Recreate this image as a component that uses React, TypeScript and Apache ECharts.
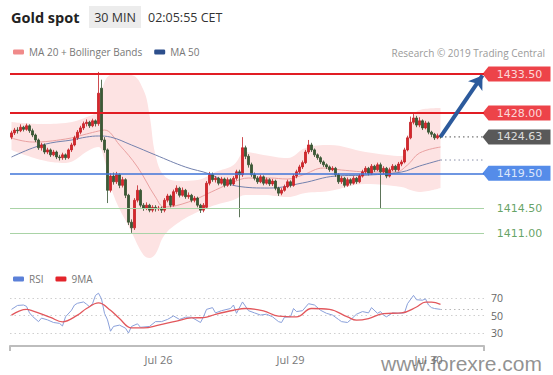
import { useEffect, useRef } from "react";
import * as echarts from "echarts";

// ---------- categories (30-min slots; 144 candles + empty slots up to the price tags) ----------
const slotCount = 158;
const dateTickIndex = [49, 93, 139];
const dateTickLabels = ["Jul 26", "Jul 29", "Jul 30"];

// ---------- candles: [open, close, low, high] ----------
const candles: number[][] = [
  [1424.6, 1425.2, 1424.3, 1425.5], [1425.2, 1425.6, 1424.9, 1425.9], [1425.6, 1425.5, 1425.1, 1426.0],
  [1425.5, 1426.0, 1425.3, 1426.4], [1426.0, 1425.7, 1425.4, 1426.2], [1425.7, 1426.2, 1425.5, 1426.5],
  [1426.2, 1425.5, 1425.2, 1426.4], [1425.5, 1424.9, 1424.6, 1425.8], [1424.9, 1424.2, 1423.9, 1425.1],
  [1424.2, 1423.1, 1422.8, 1424.4], [1423.1, 1423.5, 1422.7, 1423.8], [1423.5, 1422.5, 1422.2, 1423.7],
  [1422.5, 1422.8, 1422.2, 1423.1], [1422.8, 1422.1, 1421.8, 1423.0], [1422.1, 1422.5, 1421.9, 1422.8],
  [1422.5, 1421.8, 1421.5, 1422.7], [1421.8, 1421.7, 1421.3, 1422.1], [1421.7, 1422.1, 1421.4, 1422.4],
  [1422.1, 1421.7, 1421.4, 1422.3], [1421.7, 1422.8, 1421.5, 1423.0], [1422.8, 1423.5, 1422.5, 1423.8],
  [1423.5, 1424.5, 1423.3, 1424.8], [1424.5, 1425.3, 1424.2, 1425.6], [1425.3, 1425.9, 1425.0, 1426.2],
  [1425.9, 1426.5, 1425.6, 1426.8], [1426.5, 1426.7, 1426.1, 1427.1], [1426.7, 1426.2, 1425.9, 1426.9],
  [1426.2, 1426.9, 1426.0, 1427.2], [1426.9, 1426.5, 1426.1, 1427.1], [1426.5, 1430.8, 1426.2, 1433.8],
  [1431.5, 1424.2, 1423.9, 1432.7], [1424.2, 1422.8, 1422.4, 1424.6], [1422.8, 1417.1, 1415.3, 1423.0],
  [1417.1, 1419.1, 1416.8, 1419.5], [1419.1, 1418.3, 1417.9, 1419.6], [1418.3, 1419.3, 1418.0, 1419.7],
  [1419.3, 1417.8, 1417.4, 1419.5], [1417.8, 1418.6, 1417.5, 1419.0], [1418.6, 1416.4, 1416.0, 1418.8],
  [1416.4, 1412.6, 1412.2, 1416.6], [1412.6, 1411.8, 1411.1, 1413.0], [1411.8, 1415.7, 1411.5, 1416.0],
  [1415.7, 1417.1, 1415.4, 1417.8], [1417.1, 1415.0, 1414.7, 1417.3], [1415.0, 1414.6, 1414.2, 1415.3],
  [1414.6, 1415.0, 1414.3, 1415.4], [1415.0, 1414.3, 1414.0, 1415.2], [1414.3, 1414.7, 1414.0, 1415.0],
  [1414.7, 1414.5, 1414.1, 1415.0], [1414.5, 1414.6, 1414.2, 1414.9], [1414.6, 1414.3, 1413.9, 1414.8],
  [1414.3, 1415.7, 1414.0, 1416.0], [1415.7, 1416.3, 1415.4, 1416.6], [1416.3, 1415.0, 1414.7, 1416.5],
  [1415.0, 1416.9, 1414.8, 1417.2], [1416.9, 1417.4, 1416.6, 1417.8], [1417.4, 1416.4, 1416.1, 1417.6],
  [1416.4, 1417.1, 1416.2, 1417.5], [1417.1, 1416.2, 1415.9, 1417.3], [1416.2, 1416.4, 1415.9, 1416.8],
  [1416.4, 1415.7, 1415.4, 1416.6], [1415.7, 1416.0, 1415.4, 1416.3], [1416.0, 1415.0, 1414.7, 1416.2],
  [1415.0, 1414.3, 1413.9, 1415.2], [1414.3, 1415.0, 1414.0, 1415.3], [1414.7, 1418.1, 1414.5, 1418.4],
  [1418.1, 1419.3, 1417.8, 1419.7], [1419.3, 1418.6, 1418.3, 1419.6], [1418.6, 1418.8, 1418.2, 1419.1],
  [1418.8, 1418.1, 1417.8, 1419.0], [1418.1, 1418.7, 1417.9, 1419.0], [1418.7, 1417.8, 1417.5, 1418.9],
  [1417.8, 1418.6, 1417.6, 1418.9], [1418.6, 1418.0, 1417.7, 1418.8], [1418.0, 1418.8, 1417.8, 1419.1],
  [1418.8, 1419.7, 1418.5, 1420.0], [1419.7, 1419.3, 1413.3, 1420.0], [1419.3, 1423.1, 1419.0, 1424.6],
  [1423.1, 1421.9, 1421.5, 1423.4], [1421.9, 1420.7, 1420.3, 1422.2], [1420.7, 1419.3, 1419.0, 1421.0],
  [1419.3, 1418.8, 1418.5, 1419.6], [1418.8, 1418.3, 1418.0, 1419.1], [1418.3, 1419.0, 1418.1, 1419.3],
  [1419.0, 1418.1, 1417.8, 1419.2], [1418.1, 1418.6, 1417.9, 1418.9], [1418.6, 1418.0, 1417.7, 1418.8],
  [1418.0, 1418.4, 1417.7, 1418.7], [1418.4, 1417.4, 1417.1, 1418.6], [1417.4, 1416.7, 1416.3, 1417.6],
  [1416.7, 1417.1, 1416.4, 1417.4], [1417.1, 1417.6, 1416.9, 1417.9], [1417.6, 1418.3, 1417.4, 1418.6],
  [1418.3, 1417.8, 1417.5, 1418.5], [1417.8, 1419.1, 1417.6, 1419.4], [1419.1, 1419.7, 1418.8, 1420.0],
  [1419.7, 1420.4, 1419.4, 1420.7], [1420.4, 1421.0, 1420.1, 1421.3], [1421.0, 1422.5, 1420.8, 1422.8],
  [1422.5, 1423.5, 1422.2, 1424.2], [1423.5, 1422.8, 1422.5, 1423.8], [1422.8, 1422.1, 1421.8, 1423.0],
  [1422.1, 1421.7, 1421.4, 1422.3], [1421.7, 1421.1, 1420.8, 1421.9], [1421.1, 1420.7, 1420.4, 1421.3],
  [1420.7, 1420.4, 1420.1, 1420.9], [1420.4, 1420.0, 1419.7, 1420.6], [1420.0, 1420.2, 1419.8, 1420.5],
  [1420.2, 1419.3, 1419.0, 1420.4], [1419.3, 1418.3, 1418.0, 1419.5], [1418.3, 1418.8, 1418.0, 1419.1],
  [1418.8, 1417.8, 1417.5, 1419.0], [1417.8, 1418.6, 1417.6, 1418.9], [1418.6, 1418.1, 1417.8, 1418.8],
  [1418.1, 1418.8, 1417.9, 1419.1], [1418.8, 1418.3, 1418.0, 1419.0], [1418.3, 1419.1, 1418.1, 1419.4],
  [1419.1, 1419.7, 1418.9, 1420.0], [1419.7, 1420.2, 1419.4, 1420.5], [1420.2, 1419.5, 1419.2, 1420.4],
  [1419.5, 1420.5, 1419.3, 1420.8], [1420.5, 1420.0, 1419.7, 1420.7], [1420.0, 1420.7, 1419.8, 1421.0],
  [1420.7, 1419.7, 1414.6, 1421.0], [1419.7, 1420.2, 1419.4, 1420.5], [1420.2, 1419.1, 1418.8, 1420.4],
  [1419.1, 1420.0, 1418.9, 1420.3], [1420.0, 1420.5, 1419.8, 1420.8], [1420.5, 1420.0, 1419.7, 1420.7],
  [1420.0, 1420.8, 1419.8, 1421.1], [1420.8, 1421.1, 1420.5, 1421.4], [1421.1, 1422.8, 1420.9, 1423.1],
  [1422.8, 1424.5, 1422.6, 1424.8], [1424.5, 1426.7, 1424.3, 1427.5], [1426.7, 1427.3, 1426.4, 1428.0],
  [1427.3, 1426.3, 1426.0, 1427.6], [1426.3, 1426.9, 1426.0, 1427.4], [1426.9, 1425.9, 1425.6, 1427.1],
  [1425.9, 1426.6, 1425.7, 1426.9], [1426.6, 1425.3, 1425.0, 1426.8], [1425.3, 1425.0, 1424.6, 1425.5],
  [1425.0, 1424.5, 1424.2, 1425.2], [1424.5, 1424.8, 1424.3, 1425.1], [1424.8, 1424.63, 1424.4, 1425.0],
];

// ---------- indicators: [slot, value] ----------
const ma20Points = [
  [0, 1424.47], [7, 1423.91], [18, 1424.33], [25, 1425.04], [29, 1425.46], [31, 1425.6], [36, 1423.5],
  [42, 1420.38], [48, 1416.15], [51, 1414.74], [59, 1415.45], [68, 1417.14], [74, 1418.27], [79, 1418.83],
  [86, 1418.83], [92, 1418.69], [97, 1419.25], [104, 1420.24], [110, 1419.96], [120, 1419.68],
  [128, 1419.68], [132, 1420.67], [136, 1422.36], [143, 1423.2],
];
const ma50Points = [
  [0, 1421.79], [7, 1423.06], [13, 1423.77], [20, 1424.19], [25, 1424.61], [29, 1424.76], [33, 1424.61],
  [40, 1423.49], [48, 1422.08], [58, 1420.38], [66, 1419.4], [75, 1417.7], [86, 1417.42], [97, 1418.13],
  [108, 1419.11], [119, 1419.25], [130, 1419.68], [136, 1420.52], [143, 1421.37],
];
const bandSlots = [0, 10, 18, 26, 29, 31, 34, 40, 44, 46, 48, 51, 56, 62, 68, 74, 78, 84, 92, 98, 106, 118, 130, 133, 136, 143];
const bandUpper = [
  1426.73, 1426.45, 1426.59, 1427.58, 1428.42, 1432.37, 1433.5, 1433.36, 1431.24, 1427.72, 1422.08, 1419.11, 1418.41,
  1418.55, 1419.68, 1420.67, 1422.5, 1422.08, 1421.65, 1423.06, 1423.49, 1422.5, 1421.93, 1426.31, 1428.42, 1428.7,
];
const bandLower = [
  1422.78, 1421.37, 1420.95, 1422.78, 1423.2, 1421.37, 1416.43, 1411.22, 1407.97, 1407.55, 1408.11, 1410.79, 1412.63,
  1414.04, 1415.02, 1415.73, 1416.43, 1416.43, 1416.15, 1416.72, 1417.0, 1417.99, 1417.56, 1417.14, 1416.86, 1417.42,
];

// ---------- price levels ----------
const levelValues = [1433.5, 1428.0, 1424.63, 1419.5, 1414.5, 1411.0];
const levelLabels = ["1433.50", "1428.00", "1424.63", "1419.50", "1414.50", "1411.00"];
const levelKinds = ["resistance", "resistance", "last", "pivot", "support", "support"];
const ma50Last = 1421.37;
const targetValue = 1433.3;

// ---------- RSI panel ----------
const rsiPoints = [
  [0, 57], [2, 61.5], [4, 62], [5, 60.5], [6, 53], [7, 49], [9, 43], [10, 47], [12, 45], [14, 42], [16, 41],
  [17, 38], [18, 48.5], [20, 56], [21, 62], [22, 64], [24, 65.5], [25, 63], [26, 60], [27, 63.5], [28, 73],
  [29, 75.5], [30, 69], [31, 52.5], [32, 45], [33, 32], [34, 37.5], [36, 39], [38, 35.5], [39, 30], [40, 37.5],
  [42, 40.5], [43, 36.5], [46, 37.5], [48, 43], [50, 43], [52, 45.5], [54, 49.5], [56, 45.5], [58, 48], [60, 48],
  [63, 42], [64, 48.5], [65, 57], [67, 59], [68, 53], [70, 55.5], [73, 58], [74, 62], [75, 52.5], [77, 65.5],
  [79, 55.5], [81, 53], [83, 50.5], [85, 51.5], [87, 48.5], [89, 43], [90, 42], [91, 48], [93, 48.5], [94, 58],
  [95, 54.5], [97, 55.5], [99, 63.5], [101, 62], [103, 56], [105, 52.5], [107, 50.5], [109, 45.5], [110, 43],
  [112, 42], [113, 45], [115, 51.5], [117, 54.5], [119, 53], [120, 59], [122, 52.5], [123, 54.5], [124, 50.5],
  [125, 48.5], [127, 53], [129, 52.5], [131, 53], [132, 63.5], [134, 73], [135, 68], [137, 67.5], [138, 69],
  [139, 62], [140, 59], [141, 58], [143, 57],
];
const ma9Points = [
  [0, 50.4], [5, 57], [7, 55.3], [13, 47.8], [17, 42.8], [22, 50.4], [25, 58], [29, 64.4], [33, 56], [36, 46.5],
  [40, 35.8], [44, 35.8], [49, 38.9], [55, 43.7], [60, 47.2], [64, 47.6], [68, 51.4], [74, 56], [78, 58],
  [84, 55.3], [89, 49.2], [95, 48.4], [100, 58], [106, 56.9], [112, 48.4], [115, 44.6], [119, 46.5], [124, 52.2],
  [130, 52.9], [135, 59.7], [138, 65.4], [140, 65.4], [143, 62.8],
];
const rsiLevels = [70, 50, 30];
const rsiLast = 57;

const FONT = "'Open Sans', 'DejaVu Sans', sans-serif";
const TAGFONT = "'DejaVu Sans', sans-serif";

function buildOption() {
  const categories = Array.from({ length: slotCount }, (_, i) => String(i));
  const lastSlot = candles.length - 1;
  const endSlot = slotCount - 1;
  const kindColor: Record<string, string> = {
    resistance: "#e8141b",
    last: "#2f2f2f",
    pivot: "#2a6fe3",
    support: "#3d8b3d",
  };
  const lineColor: Record<string, string> = {
    resistance: "#e11d24",
    pivot: "#3f74d8",
    support: "#a9d3a6",
  };
  const lineWidth: Record<string, number> = { resistance: 2, pivot: 1.5, support: 1.2 };
  const tagPath = "path://M0,7.5L6,0L68,0L68,15L6,15Z";

  const levelMarks: any[] = [];
  levelValues.forEach((v, k) => {
    const kind = levelKinds[k];
    if (kind === "last") return;
    levelMarks.push({ yAxis: v, lineStyle: { color: lineColor[kind], width: lineWidth[kind], type: "solid" } });
  });
  levelMarks.push([
    { coord: [lastSlot, levelValues[2]], symbol: "none", lineStyle: { color: "#2c5a9c", width: 4, type: "solid" } },
    { coord: [endSlot - 0.35, targetValue], symbol: "arrow", symbolSize: [13, 13] },
  ]);

  const tagData = levelValues.map((v, k) => {
    const kind = levelKinds[k];
    const isText = kind === "support";
    return {
      value: [endSlot, v],
      symbol: isText ? "rect" : tagPath,
      symbolSize: [68, 15],
      symbolOffset: [34, 0],
      itemStyle: { color: isText ? "rgba(0,0,0,0)" : kindColor[kind] },
      label: {
        show: true,
        position: "inside",
        offset: [3, 0],
        formatter: levelLabels[k],
        color: isText ? kindColor[kind] : "#ffffff",
        fontSize: 11,
        fontFamily: TAGFONT,
      },
    };
  });

  return {
    animation: false,
    backgroundColor: "#ffffff",
    textStyle: { fontFamily: FONT },
    legend: [
      {
        left: 13,
        top: 47,
        padding: 0,
        itemWidth: 11,
        itemHeight: 5,
        itemGap: 12,
        icon: "roundRect",
        selectedMode: false,
        textStyle: { color: "#777", fontSize: 10, fontFamily: FONT },
        data: [
          { name: "MA 20 + Bollinger Bands", itemStyle: { color: "#f08a8a" } },
          { name: "MA 50", itemStyle: { color: "#2d4f8c" } },
        ],
      },
      {
        left: 13,
        top: 274,
        padding: 0,
        itemWidth: 11,
        itemHeight: 5,
        itemGap: 12,
        icon: "roundRect",
        selectedMode: false,
        textStyle: { color: "#777", fontSize: 10, fontFamily: FONT },
        data: [
          { name: "RSI", itemStyle: { color: "#5b80d8" } },
          { name: "9MA", itemStyle: { color: "#e3242b" } },
        ],
      },
    ],
    grid: [
      { left: 10, right: 69, top: 60, height: 198 },
      { left: 10, right: 69, top: 285, height: 61 },
    ],
    xAxis: [
      { type: "category", gridIndex: 0, data: categories, boundaryGap: true, show: false },
      {
        type: "category",
        gridIndex: 1,
        data: categories,
        boundaryGap: true,
        axisLine: { lineStyle: { color: "#bdbdbd", width: 2 } },
        axisTick: { show: true, interval: (i: number) => i === 0, length: 5, lineStyle: { color: "#bdbdbd", width: 2 } },
        axisLabel: {
          interval: 0,
          margin: 8,
          color: "#777",
          fontSize: 11,
          fontFamily: FONT,
          formatter: (_v: string, idx: number) => {
            const k = dateTickIndex.indexOf(idx);
            return k >= 0 ? dateTickLabels[k] : "";
          },
        },
        splitLine: { show: false },
      },
    ],
    yAxis: [
      { type: "value", gridIndex: 0, min: 1407.55, max: 1435.48, show: false },
      { type: "value", gridIndex: 1, min: 15.14, max: 84.86, show: false },
    ],
    series: [
      {
        type: "line",
        name: "bbLower",
        xAxisIndex: 0,
        yAxisIndex: 0,
        stack: "bb",
        smooth: 0.4,
        symbol: "none",
        lineStyle: { opacity: 0 },
        data: bandSlots.map((s, k) => [s, bandLower[k]]),
        z: 1,
        silent: true,
      },
      {
        type: "line",
        name: "bbSpan",
        xAxisIndex: 0,
        yAxisIndex: 0,
        stack: "bb",
        smooth: 0.4,
        symbol: "none",
        lineStyle: { opacity: 0 },
        areaStyle: { color: "#fde3e3", opacity: 1 },
        data: bandSlots.map((s, k) => [s, +(bandUpper[k] - bandLower[k]).toFixed(2)]),
        z: 1,
        silent: true,
      },
      {
        type: "line",
        name: "MA 20 + Bollinger Bands",
        xAxisIndex: 0,
        yAxisIndex: 0,
        smooth: 0.4,
        symbol: "none",
        lineStyle: { color: "#e9a1a1", width: 1 },
        itemStyle: { color: "#f08a8a" },
        data: ma20Points,
        z: 2,
      },
      {
        type: "line",
        name: "MA 50",
        xAxisIndex: 0,
        yAxisIndex: 0,
        smooth: 0.4,
        symbol: "none",
        lineStyle: { color: "#7381ad", width: 1 },
        itemStyle: { color: "#2d4f8c" },
        data: ma50Points,
        z: 2,
      },
      {
        type: "candlestick",
        name: "Gold",
        xAxisIndex: 0,
        yAxisIndex: 0,
        barWidth: 2,
        itemStyle: {
          color: "#d8262c",
          color0: "#3b5a36",
          borderColor: "#c21f25",
          borderColor0: "#34502f",
          borderWidth: 0.8,
        },
        data: candles,
        z: 3,
        markLine: {
          silent: true,
          symbol: ["none", "none"],
          label: { show: false },
          data: levelMarks,
          z: 4,
        },
      },
      {
        type: "line",
        name: "lastPrice",
        xAxisIndex: 0,
        yAxisIndex: 0,
        symbol: "none",
        lineStyle: { color: "#555", width: 1, type: [1.5, 3] },
        data: [
          [lastSlot, levelValues[2]],
          [endSlot, levelValues[2]],
        ],
        z: 3,
      },
      {
        type: "line",
        name: "ma50Last",
        xAxisIndex: 0,
        yAxisIndex: 0,
        symbol: "none",
        lineStyle: { color: "#8a8fa8", width: 1, type: [1.5, 3] },
        data: [
          [lastSlot, ma50Last],
          [endSlot, ma50Last],
        ],
        z: 3,
      },
      {
        type: "scatter",
        name: "tags",
        xAxisIndex: 0,
        yAxisIndex: 0,
        clip: false,
        data: tagData,
        z: 6,
        silent: true,
      },
      {
        type: "line",
        name: "RSI",
        xAxisIndex: 1,
        yAxisIndex: 1,
        symbol: "none",
        lineStyle: { color: "#8aa0da", width: 1 },
        itemStyle: { color: "#5b80d8" },
        data: rsiPoints,
        z: 3,
        markLine: {
          silent: true,
          symbol: ["none", "none"],
          lineStyle: { color: "#cfcfcf", width: 1, type: [1.5, 3] },
          label: { show: true, position: "end", distance: 7, formatter: "{c}", color: "#666", fontSize: 10.5, fontFamily: FONT },
          data: [
            ...rsiLevels.map((v) => ({ yAxis: v })),
            [
              { coord: [lastSlot, rsiLast], label: { show: false }, lineStyle: { color: "#b8b8b8" } },
              { coord: [endSlot, rsiLast] },
            ],
          ],
          z: 1,
        },
      },
      {
        type: "line",
        name: "9MA",
        xAxisIndex: 1,
        yAxisIndex: 1,
        symbol: "none",
        smooth: 0.4,
        lineStyle: { color: "#e2575c", width: 1.3 },
        itemStyle: { color: "#e3242b" },
        data: ma9Points,
        z: 4,
      },
    ],
    graphic: [
      {
        type: "text",
        x: 11,
        y: 17,
        style: { text: "Gold spot", fill: "#222", font: `bold 14.5px ${FONT}`, verticalAlign: "middle" },
      },
      { type: "rect", shape: { x: 89, y: 6, width: 52, height: 22 }, style: { fill: "#ececec" } },
      {
        type: "text",
        x: 115,
        y: 17,
        style: { text: "30 MIN", fill: "#333", font: `12.5px ${FONT}`, align: "center", verticalAlign: "middle" },
      },
      {
        type: "text",
        x: 148,
        y: 17,
        style: { text: "02:05:55 CET", fill: "#333", font: `12.5px ${FONT}`, verticalAlign: "middle" },
      },
      {
        type: "text",
        x: 545,
        y: 53,
        style: { text: "Research © 2019 Trading Central", fill: "#9a9a9a", font: `10px ${FONT}`, align: "right", verticalAlign: "middle" },
      },
      {
        type: "text",
        x: 381,
        y: 363,
        z: 100,
        style: { text: "www.forexre.com", fill: "rgba(110,110,110,0.75)", font: "21px 'Liberation Sans', sans-serif", verticalAlign: "middle" },
      },
    ],
  };
}

export default function App() {
  const ref = useRef<HTMLDivElement>(null);
  useEffect(() => {
    if (!ref.current) return;
    const chart = echarts.init(ref.current, null, { renderer: "svg" });
    chart.setOption(buildOption() as any);
    return () => chart.dispose();
  }, []);
  return (
    <div
      ref={ref}
      style={{ position: "fixed", left: 0, top: 0, width: 553, height: 375, background: "#fff" }}
    />
  );
}
